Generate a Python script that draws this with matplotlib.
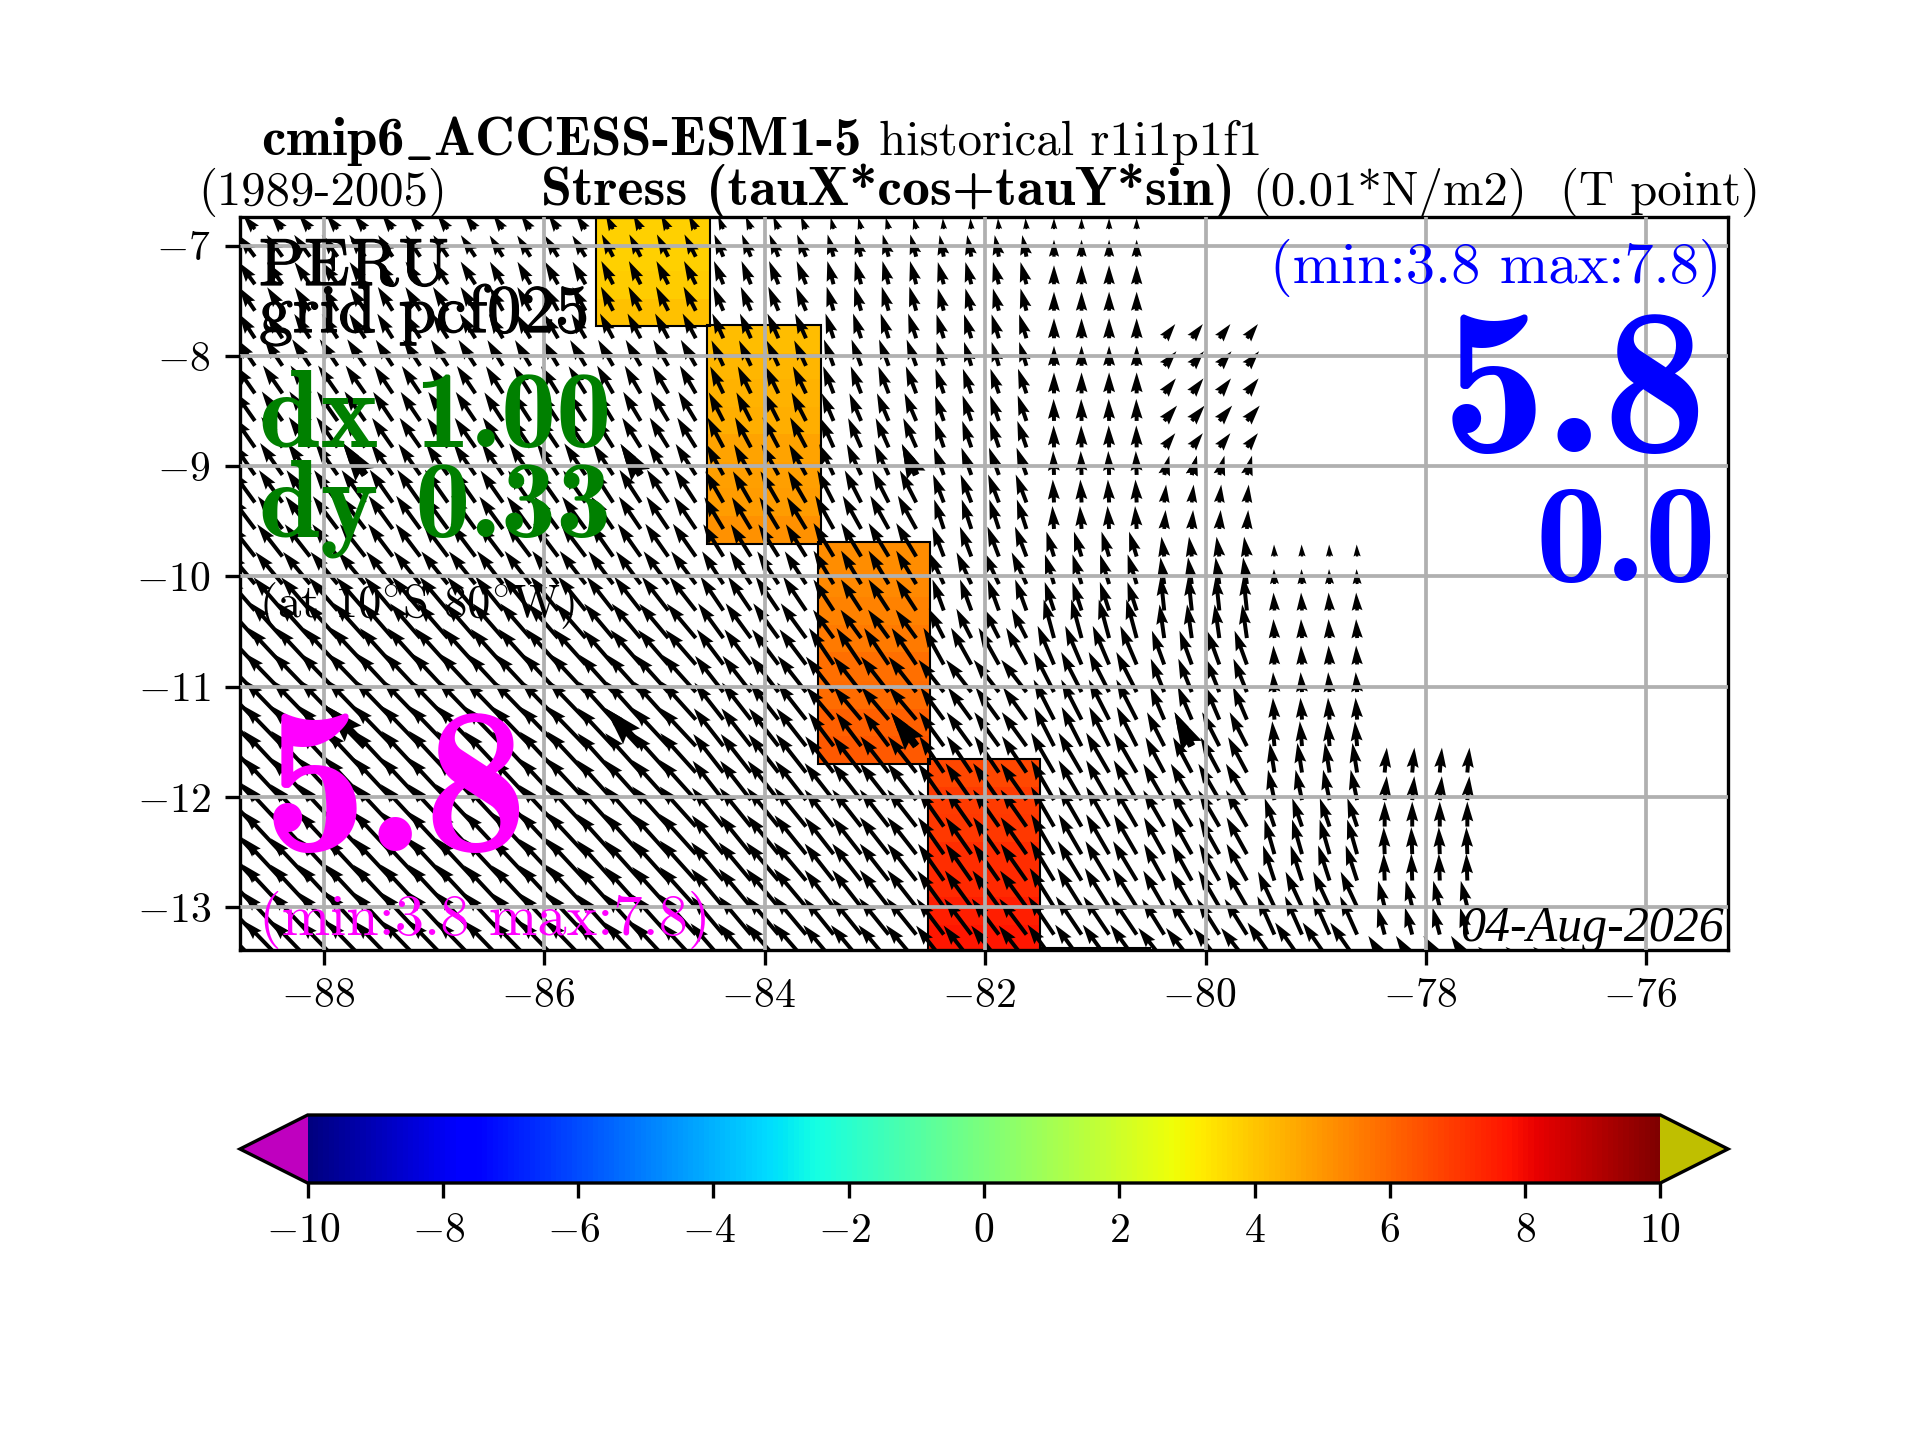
import numpy as np
import matplotlib
matplotlib.use("Agg")
import matplotlib.pyplot as plt
import matplotlib.patheffects as pe
from matplotlib.colors import Normalize
from matplotlib.patches import Rectangle
from matplotlib.cm import ScalarMappable
from matplotlib.transforms import ScaledTranslation

plt.rcParams['font.family'] = ['cmr10', 'DejaVu Serif']
plt.rcParams['mathtext.fontset'] = 'cm'
plt.rcParams['axes.formatter.use_mathtext'] = True
plt.rcParams['axes.unicode_minus'] = True

# ---- coloured cells (one entry per 1 degree column)
cell_lon_edges = [(-85.53, -84.50), (-84.52, -83.49), (-83.52, -82.50), (-82.52, -81.50), (-81.50, -80.50)]
cell_lat_edges = [
    [-6.73, -6.98, -7.23, -7.48, -7.73],
    [-7.72, -7.97, -8.21, -8.46, -8.71, -8.96, -9.20, -9.45, -9.71],
    [-9.69, -9.94, -10.19, -10.44, -10.69, -10.95, -11.20, -11.45, -11.70],
    [-11.66, -11.91, -12.16, -12.41, -12.66, -12.91, -13.16, -13.41, -13.66],
    [-13.37, -13.70],
]
cell_values = [
    [3.8, 3.8, 3.9, 4.1],
    [4.2, 4.3, 4.4, 4.5, 4.7, 4.8, 4.9, 5.1],
    [5.2, 5.3, 5.4, 5.6, 5.8, 5.9, 6.1, 6.3],
    [6.7, 6.9, 7.0, 7.2, 7.3, 7.5, 7.7, 7.8],
    [7.8],
]

# ---- stress vectors
arrow_lons = [-88.625 + 0.25 * i for i in range(0, 49)]
arrow_lats = [-6.85, -7.10, -7.35, -7.59, -7.84, -8.09, -8.34, -8.59, -8.83, -9.08,
              -9.33, -9.57, -9.82, -10.07, -10.31, -10.56, -10.80, -11.05, -11.30, -11.54,
              -11.78, -12.03, -12.27, -12.52, -12.76, -13.00, -13.25, -13.49]
# native 1 degree columns: -89, -88, ... -77 ; nan where land
nan = float('nan')
angle_table = [
 [40,38,36,34,27,22,14, 5, 0,nan,nan,nan,nan],
 [37,36,34,32,27,22,15,11, 0,nan,nan,nan,nan],
 [36,35,33,30,27,22,15,15, 0,nan,nan,nan,nan],
 [34,33,32,29,27,23,16,15, 0,nan,nan,nan,nan],
 [33,33,32,30,28,24,18,17, 0,-38,nan,nan,nan],
 [34,34,33,31,30,25,20,17, 0,-40,nan,nan,nan],
 [35,35,34,32,30,26,21,19, 0,-38,nan,nan,nan],
 [35,35,34,33,31,27,23,19, 1,-40,nan,nan,nan],
 [35,35,35,34,32,28,24,19, 1,-38,nan,nan,nan],
 [35,35,35,34,33,29,25,20, 2,-15,nan,nan,nan],
 [36,36,35,35,33,30,27,21, 3, -6,nan,nan,nan],
 [37,37,36,36,34,31,29,18, 4, -4,nan,nan,nan],
 [38,38,37,37,35,32,31,21,17,  8,  2,nan,nan],
 [40,40,39,38,37,33,31,25,17,  8,  2,nan,nan],
 [41,41,40,39,38,34,33,20,18,  6,  3,nan,nan],
 [42,42,41,41,40,36,36,27,15,  8,  3,nan,nan],
 [43,43,42,42,41,37,34,29,23, 20,  3,nan,nan],
 [44,44,43,43,42,38,38,38,27, 22,  4,nan,nan],
 [44,44,44,44,42,38,40,36,27, 23,  4,nan,nan],
 [44,44,44,44,43,38,37,36,27, 27,  5,nan,nan],
 [43,43,43,43,42,38,38,34,30, 28,  9, -5,nan],
 [43,43,43,43,42,38,38,35,30, 30, 12, -5,nan],
 [43,43,43,43,42,39,38,35,30, 30, 19,  0,nan],
 [43,43,43,43,42,39,38,35,30, 29, 16,  2,nan],
 [43,43,43,43,42,40,38,35,31, 29, 18,  2,nan],
 [43,43,43,43,42,40,38,36,32, 30, 25, 14,nan],
 [43,43,43,43,42,40,39,37,34, 32, 24, 15,nan],
 [44,44,44,44,43,41,40,38,36, 38, 35, 33, 50],
]
speed_table = [
 [18,18,18,17,16,14,12,11,11,nan,nan,nan,nan],
 [27,27,26,25,25,24,23,22,17,nan,nan,nan,nan],
 [27,27,27,26,26,25,24,23,19,nan,nan,nan,nan],
 [28,28,28,27,27,26,25,23,19,nan,nan,nan,nan],
 [29,29,29,28,28,27,26,25,20,18,nan,nan,nan],
 [32,32,31,30,30,28,28,25,20,19,nan,nan,nan],
 [34,34,33,32,32,30,29,26,21,19,nan,nan,nan],
 [36,36,35,34,34,32,30,27,22,20,nan,nan,nan],
 [37,37,36,36,35,34,32,28,22,18,nan,nan,nan],
 [39,39,38,38,37,35,34,29,24,20,nan,nan,nan],
 [40,40,40,39,39,36,36,30,23,18,nan,nan,nan],
 [41,41,41,40,39,37,38,31,23,19,nan,nan,nan],
 [41,41,41,41,40,38,39,32,26,20,12,nan,nan],
 [42,42,42,42,41,39,39,35,31,27,15,nan,nan],
 [44,44,44,44,43,41,37,33,30,35,18,nan,nan],
 [47,47,46,46,45,43,35,33,40,34,19,nan,nan],
 [50,50,49,48,46,44,44,42,42,36,19,nan,nan],
 [54,54,53,52,50,46,45,41,45,36,20,nan,nan],
 [55,55,55,54,51,47,43,40,45,36,22,nan,nan],
 [56,56,56,55,52,48,42,42,44,38,25,nan,nan],
 [57,57,57,56,53,49,46,44,46,40,30,25,nan],
 [58,58,58,57,54,50,47,45,46,42,31,24,nan],
 [58,58,58,57,54,50,47,45,46,42,30,25,nan],
 [58,58,58,57,54,50,47,45,46,42,36,27,nan],
 [58,58,58,57,54,50,47,45,46,42,37,27,nan],
 [58,58,58,57,54,50,47,45,46,42,39,27,nan],
 [58,58,58,57,54,50,47,45,46,42,42,28,nan],
 [56,56,56,56,53,50,47,45,45,42,47,30,22],
]
column_of_lon = [int(np.floor(lon + 0.5)) for lon in arrow_lons]  # native column index
column_names = list(range(-89, -76))

xticks_main = [-88, -86, -84, -82, -80, -78, -76]
yticks_main = [-13, -12, -11, -10, -9, -8, -7]
cbar_ticks = [-10, -8, -6, -4, -2, 0, 2, 4, 6, 8, 10]

# ---- build vectors
X, Y = np.meshgrid(arrow_lons, arrow_lats)
col_idx = [column_names.index(c) for c in column_of_lon]
ang = np.radians(np.array(angle_table, dtype=float)[:, col_idx])
spd = np.array(speed_table, dtype=float)[:, col_idx]
U = -spd * np.sin(ang)
V = spd * np.cos(ang)

fig = plt.figure(figsize=(6.4, 4.8), dpi=300)
W, H = 1920.0, 1440.0
ax = fig.add_axes([240 / W, 1 - 950 / H, (1728 - 240) / W, (950 - 217) / H])
ax.set_xlim(-88.76, -75.26)
ax.set_ylim(-13.39, -6.74)

cmap = matplotlib.colormaps['jet'].copy()
cmap.set_under((0.75, 0, 0.75))
cmap.set_over((0.75, 0.75, 0))
norm = Normalize(-10, 10)

for (x0, x1), lat_e, vals in zip(cell_lon_edges, cell_lat_edges, cell_values):
    ax.pcolormesh([x0, x1], lat_e, np.array(vals)[:, None], cmap=cmap, norm=norm, zorder=1)
    ax.add_patch(Rectangle((x0, lat_e[-1]), x1 - x0, lat_e[0] - lat_e[-1], fill=False,
                           ec='k', lw=0.5, zorder=1.2))

qkw = dict(angles='xy', scale_units='xy', scale=110.3, units='x', color='k', zorder=2)
ax.quiver(X, Y, U, V, width=0.036, **qkw)
ax.quiver(X[9::10, 4::10], Y[9::10, 4::10], U[9::10, 4::10], V[9::10, 4::10], width=0.07, **qkw)

ax.set_xticks(xticks_main)
ax.set_yticks(yticks_main)
ax.set_axisbelow(False)
ax.grid(True, lw=0.9)
ax.tick_params(axis='x', pad=3.2)


def T(x, y, s, weight=0, **kw):
    kw.setdefault('va', 'baseline')
    t = fig.text(x / W, 1 - y / H, s, **kw)
    if weight:
        t.set_path_effects([pe.withStroke(linewidth=weight, foreground=kw.get('color', 'k'))])
    return t


T(261, 155, r'cmip6$\_$ACCESS-ESM1-5', fontsize=13.2, family='cmb10')
T(879, 155, 'historical r1i1p1f1', fontsize=11.7)
T(198, 205, '(1989-2005)', fontsize=11.7)
T(541, 205, 'Stress (tauX*cos+tauY*sin)', fontsize=13.4, family='cmb10')
T(1252, 205, '(0.01*N/m2)', fontsize=11.7)
T(1560, 205, '(T point)', fontsize=11.7)

T(259, 285, 'PERU', fontsize=16, weight=0.3)
T(259, 332, 'grid pcf025', fontsize=16.3, weight=0.3)
T(259, 447, 'dx 1.00', fontsize=26.5, family='cmb10', color='green')
T(259, 536, 'dy 0.33', fontsize=26.5, family='cmb10', color='green')
T(259, 617, r'(at 10$^{\circ}$S 80$^{\circ}$W)', fontsize=11.2)
T(396, 851, '5.8', fontsize=50, family='cmb10', color='magenta', ha='center')
T(259, 935, '(min:3.8 max:7.8)', fontsize=14.0, color='magenta')
T(1722, 283, '(min:3.8 max:7.8)', fontsize=14.0, color='blue', ha='right')
T(1575, 452, '5.8', fontsize=50, family='cmb10', color='blue', ha='center')
T(1626, 581, '0.0', fontsize=34, family='cmb10', color='blue', ha='center')
T(1724, 941, '04-Aug-2026', fontsize=12, family='Liberation Serif', style='italic', ha='right')

cax = fig.add_axes([240 / W, 1 - 1183 / H, (1728 - 240) / W, 68 / H])
sm = ScalarMappable(norm=norm, cmap=cmap)
cb = fig.colorbar(sm, cax=cax, orientation='horizontal', extend='both', ticks=cbar_ticks)

# negative tick labels sit slightly left of their ticks in the reference
for lab in ax.get_xticklabels():
    lab.set_transform(lab.get_transform() + ScaledTranslation(-6 / 300, 0, fig.dpi_scale_trans))
for lab, val in zip(cax.get_xticklabels(), cbar_ticks):
    if val < 0:
        lab.set_transform(lab.get_transform() + ScaledTranslation(-4 / 300, 0, fig.dpi_scale_trans))

fig.savefig('out.png', dpi=300)
